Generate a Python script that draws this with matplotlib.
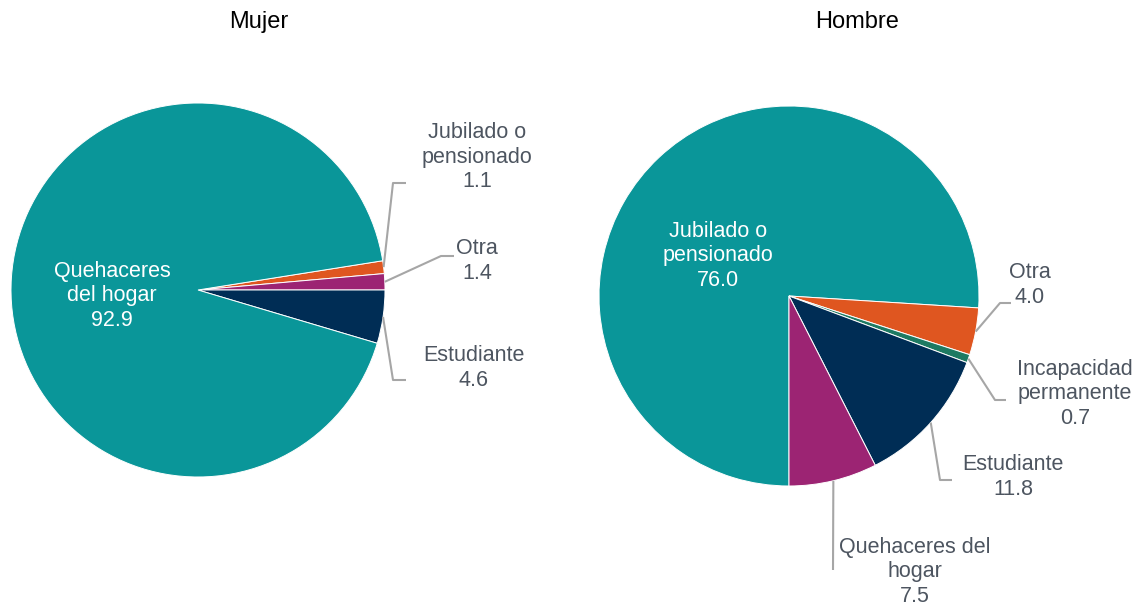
import matplotlib

matplotlib.use("Agg")
import matplotlib.pyplot as plt
import numpy as np

plt.rcParams["font.family"] = ["Liberation Sans", "DejaVu Sans"]

W, H = 1138, 607

# Mujer
mujer_labels = ["Jubilado o\npensionado", "Otra", "Estudiante", "Quehaceres\ndel hogar"]
mujer_values = [1.1, 1.4, 4.6, 92.9]
mujer_colors = ["#df5620", "#9c2473", "#002d55", "#0a9699"]
# Hombre
hombre_labels = ["Jubilado o\npensionado", "Otra", "Incapacidad\npermanente", "Estudiante",
                 "Quehaceres del\nhogar"]
hombre_values = [76.0, 4.0, 0.7, 11.8, 7.5]
hombre_colors = ["#0a9699", "#df5620", "#1e7a62", "#002d55", "#9c2473"]

TEXT = "#4d5560"
LEADER = "#a6a6a6"
FS = 15.5
LS = 1.24

fig = plt.figure(figsize=(W / 100, H / 100), dpi=100)
ax = fig.add_axes([0, 0, 1, 1])
ax.axis("off")


def py(y):
    return H - y


def draw_pie(values, labels, colors, center, radius, startangle, inside, outside):
    cx, cy = center[0], py(center[1])
    wedges, _ = ax.pie(values, colors=colors, startangle=startangle,
                       counterclock=False, center=(cx, cy), radius=radius,
                       wedgeprops=dict(edgecolor="white", linewidth=0.7))
    for w, lab, v in zip(wedges, labels, values):
        txt = f"{lab}\n{v:.1f}"
        if lab in inside:
            x, y = inside[lab]
            ax.text(x, py(y), txt, color="white", fontsize=FS, ha="center", va="center",
                    linespacing=LS)
            continue
        (tx, ty), elbow, end = outside[lab]
        mid = np.deg2rad((w.theta1 + w.theta2) / 2)
        ax0 = cx + radius * np.cos(mid)
        ay0 = cy + radius * np.sin(mid)
        ax.plot([ax0, elbow[0], end[0]], [ay0, py(elbow[1]), py(end[1])],
                color=LEADER, lw=1.5, solid_capstyle="butt")
        ax.text(tx, py(ty), txt, color=TEXT, fontsize=FS, ha="center", va="center",
                linespacing=LS)


draw_pie(mujer_values, mujer_labels, mujer_colors, (198, 290), 187, 9.0,
         {"Quehaceres\ndel hogar": (112, 296)},
         {"Jubilado o\npensionado": ((477, 157), (393, 183), (406, 183)),
          "Otra": ((477, 261), (441, 256), (454, 256)),
          "Estudiante": ((474, 368), (393, 380), (406, 380))})

draw_pie(hombre_values, hombre_labels, hombre_colors, (789, 296), 190, 270.0,
         {"Jubilado o\npensionado": (718, 256)},
         {"Otra": ((1030, 285), (1000, 303), (1011, 303)),
          "Incapacidad\npermanente": ((1075, 394), (995, 400), (1006, 400)),
          "Estudiante": ((1013, 477), (940, 480), (952, 480)),
          "Quehaceres del\nhogar": ((915, 572), (833, 570), (833, 570))})

ax.text(259, py(22), "Mujer", fontsize=17, ha="center", va="center", color="black")
ax.text(857, py(22), "Hombre", fontsize=17, ha="center", va="center", color="black")

ax.set_xlim(0, W)
ax.set_ylim(0, H)
ax.set_aspect("auto")
fig.savefig("out.png", dpi=100)
